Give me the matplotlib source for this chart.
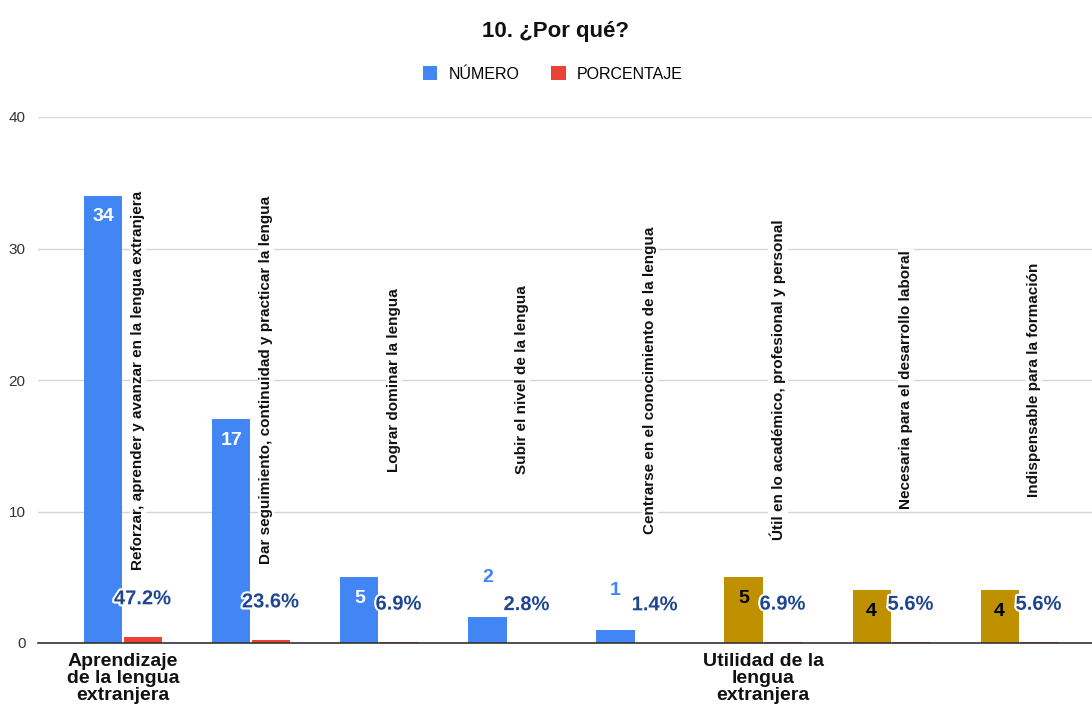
import matplotlib
matplotlib.use("Agg")
import matplotlib.pyplot as plt
import matplotlib.patheffects as pe
from matplotlib.patches import Patch
from matplotlib import font_manager
import numpy as np

title = "10. ¿Por qué?"
series_names = ["NÚMERO", "PORCENTAJE"]
group_labels = ["Aprendizaje\nde la lengua\nextranjera", "", "", "", "",
                "Utilidad de la\nlengua\nextranjera", "", ""]
reasons = [
    "Reforzar, aprender y avanzar en la lengua extranjera",
    "Dar seguimiento, continuidad y practicar la lengua",
    "Lograr dominar la lengua",
    "Subir el nivel de la lengua",
    "Centrarse en el conocimiento de la lengua",
    "Útil en lo académico, profesional y personal",
    "Necesaria para el desarrollo laboral",
    "Indispensable para la formación",
]
numero = [34, 17, 5, 2, 1, 5, 4, 4]
porcentaje = [0.472, 0.236, 0.069, 0.028, 0.014, 0.069, 0.056, 0.056]
group_of_bar = [0, 0, 0, 0, 0, 1, 1, 1]
y_ticks = [0, 10, 20, 30, 40]

BLUE = "#4285F4"
RED = "#EA4335"
GOLD = "#BF9000"
NAVY = "#1F4690"
SANS = ["Liberation Sans", "DejaVu Sans"]

installed = {f.name for f in font_manager.fontManager.ttflist}
if "Liberation Sans Narrow" in installed:
    NARROW = ["Liberation Sans Narrow", "DejaVu Sans"]
    k = 1.0 / 0.82
else:
    NARROW = SANS
    k = 1.0

fig = plt.figure(figsize=(10.92, 7.06), dpi=100)
ax = fig.add_axes([38 / 1092, 1 - 643 / 706, 1 - 38 / 1092, (643 - 117) / 706])

x = np.arange(len(numero))
w = 0.297
gap = 0.008
num_colors = [BLUE if g == 0 else GOLD for g in group_of_bar]
bars_n = ax.bar(x - w / 2 - gap / 2, numero, w, color=num_colors, zorder=3)
bars_p = ax.bar(x + w / 2 + gap / 2, porcentaje, w, color=RED, zorder=3)

ax.set_xlim(-0.664, 7.57)
ax.set_ylim(0, 40)
ax.set_yticks(y_ticks)
ax.set_yticklabels([str(v) for v in y_ticks], family=SANS, fontsize=11, color="#333333")
ax.tick_params(axis="y", length=0, pad=9)
ax.grid(axis="y", color="#d6d6d6", linewidth=1, zorder=0)
ax.set_axisbelow(True)
for s in ["top", "right", "left"]:
    ax.spines[s].set_visible(False)
ax.spines["bottom"].set_color("#333333")
ax.spines["bottom"].set_linewidth(1.2)
ax.spines["bottom"].set_zorder(5)

ax.set_xticks(x)
ax.set_xticklabels(group_labels, family=SANS, fontsize=14, fontweight="bold",
                   color="#111111", linespacing=1.0)
ax.tick_params(axis="x", length=0, pad=7)

# number labels
for b, v, g in zip(bars_n, numero, group_of_bar):
    cx = b.get_x() + b.get_width() / 2
    if v >= 3:
        col = "white" if g == 0 else "black"
        ax.annotate(str(v), (cx, v), xytext=(0, -21), textcoords="offset pixels",
                    ha="center", va="center", fontsize=14 * k, fontweight="bold",
                    family=NARROW, color=col, zorder=6)
    else:
        ax.annotate(str(v), (cx, v), xytext=(0, 39), textcoords="offset pixels",
                    ha="center", va="center", fontsize=14 * k, fontweight="bold",
                    family=NARROW, color=BLUE, zorder=6)

# percentage labels
for b, v in zip(bars_p, porcentaje):
    cx = b.get_x() + b.get_width() / 2
    t = ax.annotate(f"{v * 100:.1f}%", (cx, v), xytext=(0, 38), textcoords="offset pixels",
                    ha="center", va="center", fontsize=14.5 * k, fontweight="bold",
                    family=NARROW, color=NAVY, zorder=7)
    t.set_path_effects([pe.withStroke(linewidth=3, foreground="white")])

# rotated reason labels
for xi, r in zip(x, reasons):
    ax.text(xi + 0.117, 20, r, rotation=90, ha="center", va="center",
            fontsize=11 * k, fontweight="bold", family=NARROW, color="#111111", zorder=4,
            bbox=dict(facecolor="white", edgecolor="none", pad=1))

fig.text(555 / 1092, 1 - 31 / 706, title, ha="center", va="center",
         fontsize=16 * k, fontweight="bold", family=NARROW, color="#111111")

handles = [Patch(facecolor=BLUE, edgecolor="none"), Patch(facecolor=RED, edgecolor="none")]
fig.legend(handles, series_names, loc="center", bbox_to_anchor=(553 / 1092, 1 - 74 / 706),
           ncol=2, frameon=False, prop={"family": SANS, "size": 11.5},
           handlelength=0.9, handleheight=0.9, handletextpad=0.7, columnspacing=2.0)

fig.savefig("out.png", dpi=100)
